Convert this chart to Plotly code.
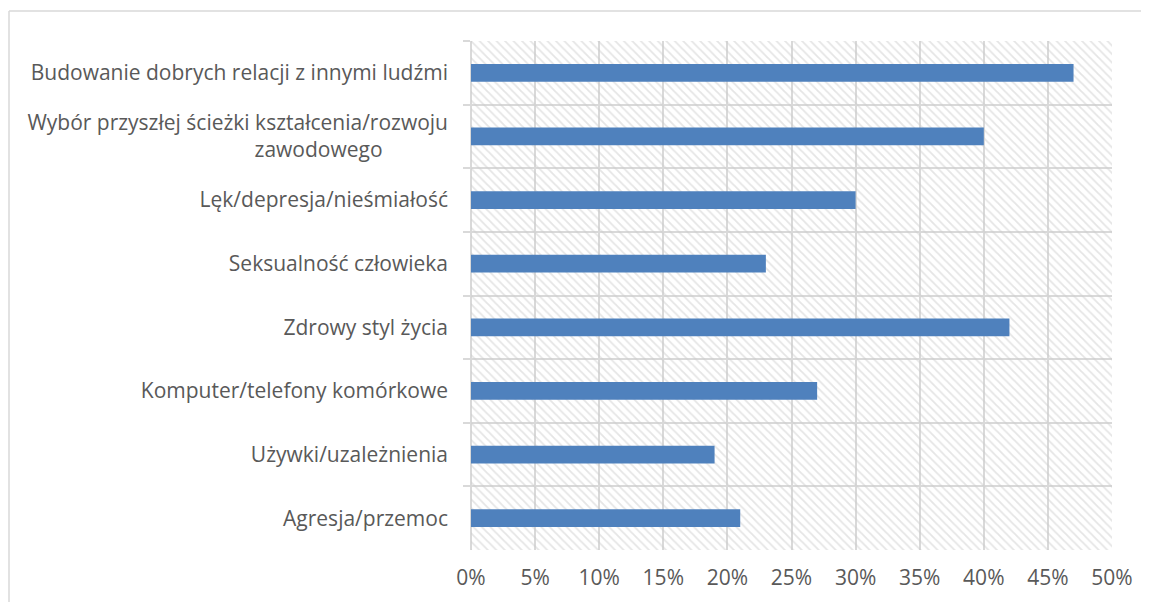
import plotly.graph_objects as go

categories = [
    "Budowanie dobrych relacji z innymi ludźmi",
    "Wybór przyszłej ścieżki kształcenia/rozwoju<br>zawodowego" + "\u00a0" * 12,
    "Lęk/depresja/nieśmiałość",
    "Seksualność człowieka",
    "Zdrowy styl życia",
    "Komputer/telefony komórkowe",
    "Używki/uzależnienia",
    "Agresja/przemoc",
]
values = [47, 40, 30, 23, 42, 27, 19, 21]
x_ticks = [0, 5, 10, 15, 20, 25, 30, 35, 40, 45, 50]
x_tick_labels = [f"{v}%" for v in x_ticks]
x_max = 50

grid = "#d9d9d9"
font_col = "#595959"

fig = go.Figure()
# hatched plot-area background
fig.add_trace(go.Bar(
    y=categories, x=[x_max] * len(categories), orientation="h", width=1,
    marker=dict(color="rgba(0,0,0,0)", line=dict(width=0),
                pattern=dict(shape="\\", size=6, solidity=0.3,
                             fgcolor="#cccccc", bgcolor="rgba(0,0,0,0)")),
    hoverinfo="skip", showlegend=False,
))
fig.add_trace(go.Bar(
    y=categories, x=values, orientation="h", width=0.28,
    marker=dict(color="#4f81bd", line=dict(width=0)),
    showlegend=False,
))

OFF = 8  # page body offset
L, R, T, B = 471 - OFF, 37 + OFF, 41 - OFF, 52 + OFF
W, H = 1149, 602
pw, ph = W - L - R, H - T - B
def px(x): return (x - L) / pw
def py(y): return (H - B - y) / ph

fig.update_layout(
    width=W, height=H, barmode="overlay",
    margin=dict(l=L, r=R, t=T, b=B),
    paper_bgcolor="white", plot_bgcolor="white",
    font=dict(family="Open Sans", size=21, color=font_col),
    xaxis=dict(range=[0, x_max], tickvals=x_ticks, ticktext=x_tick_labels,
               showgrid=True, gridcolor=grid, gridwidth=1.5,
               zeroline=True, zerolinecolor=grid, zerolinewidth=1.5,
               showline=False, ticks="", ticklabelstandoff=13,
               tickfont=dict(size=21, color=font_col)),
    yaxis=dict(autorange="reversed", type="category", tickson="boundaries",
               showgrid=True, gridcolor=grid, gridwidth=1.5,
               ticks="outside", ticklen=7, tickcolor=grid, tickwidth=1.5,
               showline=False, ticklabelstandoff=22,
               tickfont=dict(size=21, color=font_col)),
    shapes=[
        dict(type="line", xref="paper", yref="paper",
             x0=px(1), x1=px(1), y0=py(H + 5), y1=py(3),
             line=dict(color=grid, width=1.5)),
        dict(type="line", xref="paper", yref="paper",
             x0=px(1), x1=px(W + 5), y0=py(3), y1=py(3),
             line=dict(color=grid, width=1.5)),
    ],
)

fig.write_html("out.html")
